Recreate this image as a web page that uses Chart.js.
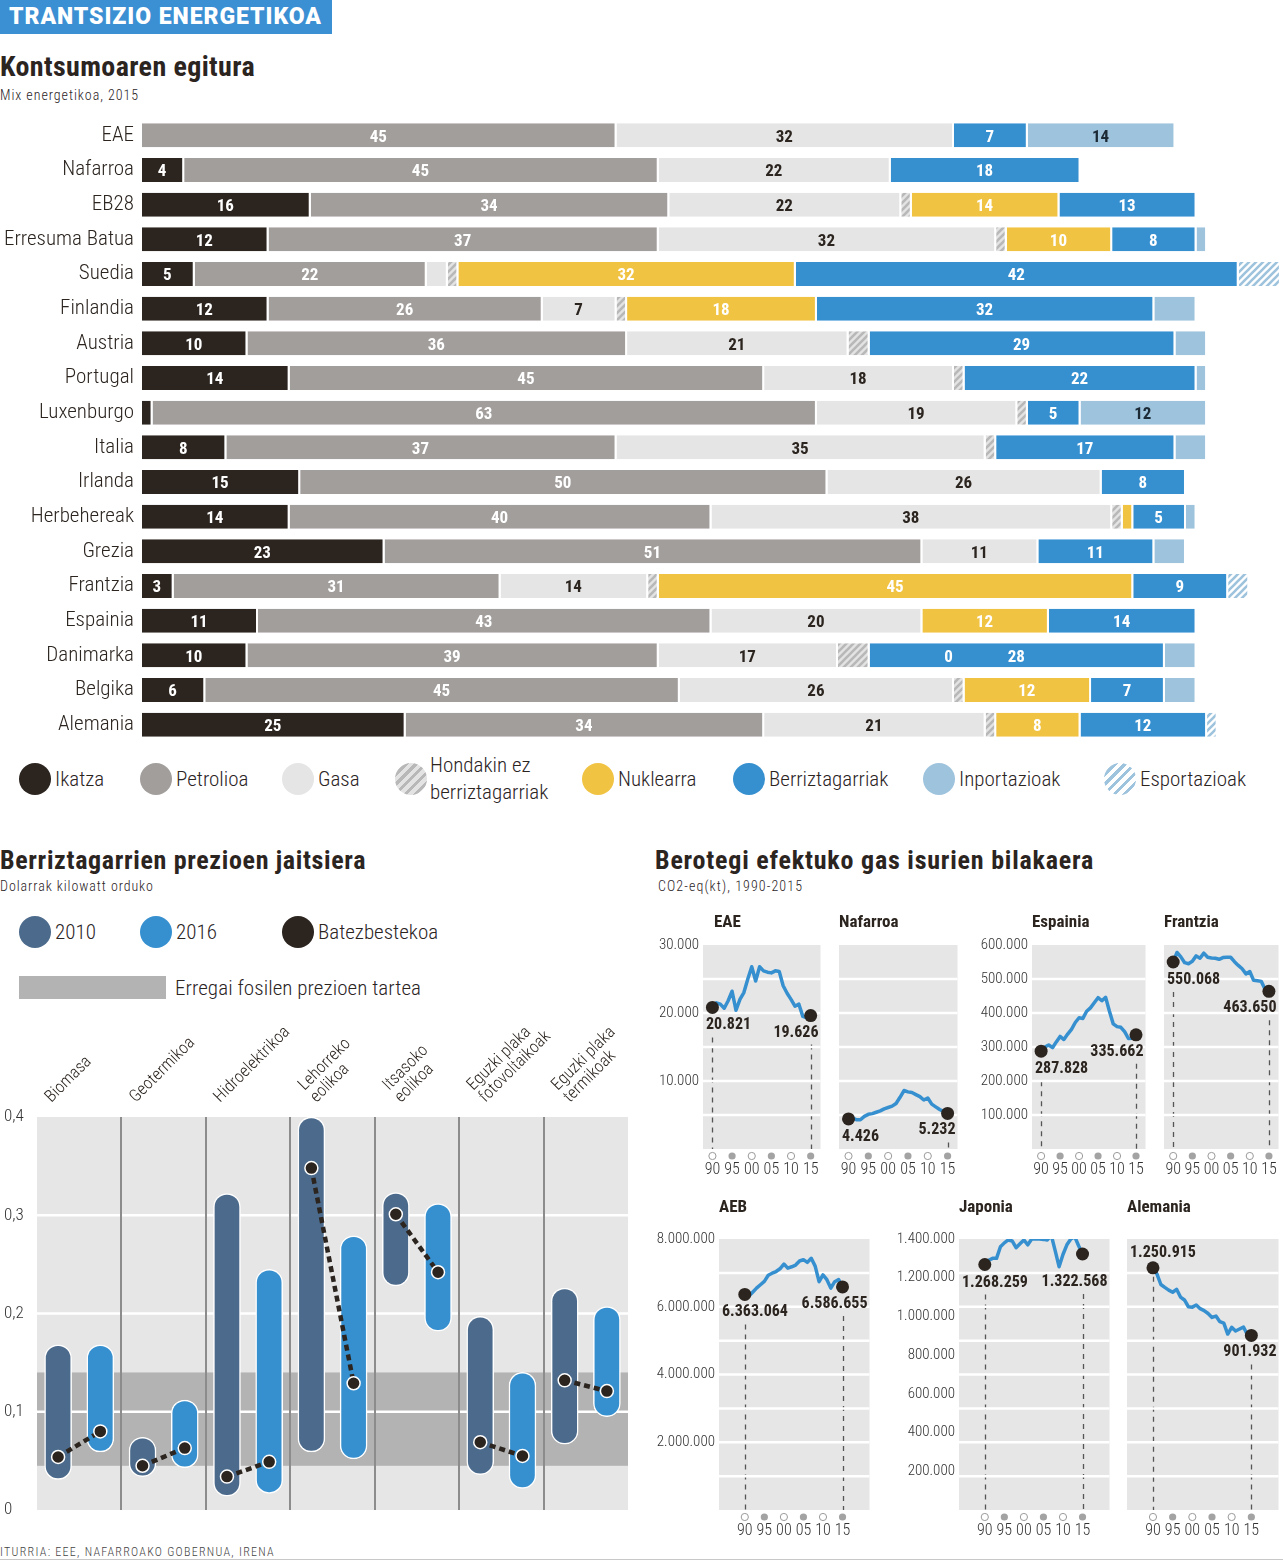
<!DOCTYPE html>
<html lang="eu">
<head>
<meta charset="utf-8">
<title>Trantsizio energetikoa</title>
<script src="https://cdn.jsdelivr.net/npm/chart.js@4.4.1/dist/chart.umd.min.js"></script>
<style>
html,body{margin:0;padding:0;background:#fff;}
#page{position:relative;width:1283px;height:1561px;overflow:hidden;background:#fff;color:#2b241f;}
.t{position:absolute;white-space:pre;line-height:1;}
canvas{position:absolute;}
.blob{position:absolute;border-radius:50%;}
</style>
</head>
<body>
<div id="page"></div>
<script>
// ================= DATA =================
// --- Kontsumoaren egitura (Mix energetikoa, 2015) ---
const countries = ['EAE','Nafarroa','EB28','Erresuma Batua','Suedia','Finlandia','Austria','Portugal','Luxenburgo','Italia','Irlanda','Herbehereak','Grezia','Frantzia','Espainia','Danimarka','Belgika','Alemania'];
const sourceNames = ['Ikatza','Petrolioa','Gasa','Hondakin ez\nberriztagarriak','Nuklearra','Berriztagarriak','Inportazioak','Esportazioak'];
const ikatza          = [0, 4,16,12, 5,12,10,14, 1, 8,15,14,23, 3,11,10, 6,25];
const petrolioa       = [45,45,34,37,22,26,36,45,63,37,50,40,51,31,43,39,45,34];
const gasa            = [32,22,22,32, 2, 7,21,18,19,35,26,38,11,14,20,17,26,21];
const hondakina       = [0, 0, 1, 1, 1, 1, 2, 1, 1, 1, 0, 1, 0, 1, 0, 3, 1, 1];
const nuklearra       = [0, 0,14,10,32,18, 0, 0, 0, 0, 0, 1, 0,45,12, 0,12, 8];
const berriztagarriak = [7,18,13, 8,42,32,29,22, 5,17, 8, 5,11, 9,14,28, 7,12];
const inportazioak    = [14,0, 0, 1, 0, 4, 3, 1,12, 3, 0, 1, 3, 0, 0, 3, 3, 0];
const esportazioak    = [0, 0, 0, 0, 4, 0, 0, 0, 0, 0, 0, 0, 0, 2, 0, 0, 0, 1];
const zeroLabelCountries = ['Danimarka'];

// --- Berriztagarrien prezioen jaitsiera (USD/kWh) ---
const techs = ['Biomasa','Geotermikoa','Hidroelektrikoa',['Lehorreko','eolikoa'],['Itsasoko','eolikoa'],['Eguzki plaka','fotovoltaikoak'],['Eguzki plaka','termikoak']];
const min2010 = [0.031,0.034,0.014,0.059,0.228,0.036,0.067];
const max2010 = [0.168,0.074,0.322,0.400,0.323,0.197,0.226];
const avg2010 = [0.054,0.045,0.034,0.348,0.301,0.069,0.132];
const min2016 = [0.059,0.043,0.017,0.052,0.182,0.022,0.095];
const max2016 = [0.168,0.112,0.245,0.279,0.312,0.140,0.207];
const avg2016 = [0.080,0.063,0.049,0.129,0.242,0.055,0.121];
const fossilRange = [0.045,0.14];
const priceTicks = [0,0.1,0.2,0.3,0.4];

// --- Berotegi efektuko gas isurien bilakaera (CO2-eq kt) ---
const years = [1990,1991,1992,1993,1994,1995,1996,1997,1998,1999,2000,2001,2002,2003,2004,2005,2006,2007,2008,2009,2010,2011,2012,2013,2014,2015];
const yearTicks = [1990,1995,2000,2005,2010,2015];
const eae      = [20821,21500,21300,20700,21800,23200,20400,22000,23000,25000,26800,24700,26800,26200,26000,25900,26200,26100,24000,22900,22000,21000,21300,19500,19300,19626];
const nafarroa = [4426,4600,4300,4300,4800,5100,5200,5400,5600,5900,6100,6300,6700,7600,8600,8400,8300,8000,7700,7200,7500,6600,6200,5800,5500,5232];
const espainia = [287828,300000,306000,298000,315000,331000,322000,338000,352000,372000,386000,384000,405000,415000,430000,445000,436000,446000,405000,368000,360000,358000,345000,325000,326000,335662];
const frantzia = [550068,578000,565000,548000,545000,552000,568000,561000,576000,564000,562000,561000,558000,563000,564000,564000,551000,540000,530000,515000,522000,496000,495000,493000,470000,463650];
const aeb      = [6363064,6310000,6430000,6550000,6650000,6750000,6930000,6990000,7040000,7120000,7260000,7140000,7180000,7230000,7350000,7390000,7310000,7430000,7200000,6740000,6940000,6800000,6550000,6740000,6800000,6586655];
const japonia  = [1268259,1290000,1300000,1300000,1360000,1380000,1395000,1390000,1355000,1375000,1395000,1370000,1400000,1400000,1400000,1398000,1395000,1420000,1340000,1257000,1320000,1370000,1400000,1412000,1365000,1322568];
const alemania = [1250915,1220000,1165000,1150000,1136000,1125000,1140000,1100000,1085000,1050000,1048000,1059000,1040000,1030000,1015000,995000,1002000,973000,965000,909000,944000,925000,935000,945000,905000,901932];
const eaeTicks      = [10000,20000,30000];
const espainiaTicks = [100000,200000,300000,400000,500000,600000];
const aebTicks      = [2000000,4000000,6000000,8000000];
const japoniaTicks  = [200000,400000,600000,800000,1000000,1200000,1400000];

// ================= FONTS =================
function fontOK(n){
  const c=document.createElement('canvas').getContext('2d');
  const s='mmmmmmmmmmlli1WQ0123456789abcdefghij';
  for(const fb of ['monospace','serif']){
    c.font='48px '+fb; const a=c.measureText(s).width;
    c.font='48px "'+n+'",'+fb; if(Math.abs(c.measureText(s).width-a)>0.01) return true;
  }
  return false;
}
const condList=['Roboto Condensed','Liberation Sans Narrow','DejaVu Sans Condensed','Open Sans Condensed'];
const COND=condList.find(fontOK);
const FAM = COND ? `"${COND}", "Roboto", "Liberation Sans", sans-serif` : `"Roboto", "Liberation Sans", sans-serif`;
const DARK='#2b241f', BLUE='#3690d0', C2010='#4c6b8c';

const page=document.getElementById('page');
Chart.defaults.font.family=FAM;

// ================= HTML TEXT =================
function txt(s,x,cy,size,o={}){
  const d=document.createElement('div'); d.className='t'; d.textContent=s;
  d.style.fontFamily=o.fam||FAM; d.style.fontSize=size+'px';
  d.style.fontWeight=o.weight||300; d.style.color=o.color||DARK;
  d.style.left=x+'px'; d.style.top=(cy-0.5*size)+'px';
  page.appendChild(d);
  if(o.w){ const w=d.getBoundingClientRect().width; const n=s.length; d.style.letterSpacing=((o.w-w)/n).toFixed(2)+'px'; }
  return d;
}
function blob(cx,cy,r,bg){
  const d=document.createElement('div'); d.className='blob';
  d.style.left=(cx-r)+'px'; d.style.top=(cy-r)+'px'; d.style.width=d.style.height=(2*r)+'px';
  d.style.background=bg; page.appendChild(d); return d;
}
function box(x,y,w,h,bg){
  const d=document.createElement('div'); d.style.position='absolute';
  d.style.left=x+'px'; d.style.top=y+'px'; d.style.width=w+'px'; d.style.height=h+'px'; d.style.background=bg;
  page.appendChild(d); return d;
}

// header
box(0,0,332,34,'#3b8fd3');
txt('TRANTSIZIO ENERGETIKOA',9,16,23,{fam:'"Roboto", "Liberation Sans", sans-serif',weight:900,color:'#fff',w:313});
// section titles
txt('Kontsumoaren egitura',0,67,28,{weight:700,w:255});
txt('Mix energetikoa, 2015',0,95,14,{weight:300,w:139});
txt('Berriztagarrien prezioen jaitsiera',0,860,26,{weight:700,w:366});
txt('Dolarrak kilowatt orduko',0,886,14,{weight:300,w:154});
txt('Berotegi efektuko gas isurien bilakaera',655,860,26,{weight:700,w:439});
txt('CO2-eq(kt), 1990-2015',658,886,14,{weight:300,w:145});
txt('ITURRIA: EEE, NAFARROAKO GOBERNUA, IRENA',0,1552,12,{weight:300,color:'#444',w:275});
box(0,1559,1283,1,'#c8c8c8');

// ================= TOP STACKED BARS =================
const topCv=document.createElement('canvas'); topCv.width=1283; topCv.height=624;
topCv.style.left='0px'; topCv.style.top='118px'; page.appendChild(topCv);
const tctx=topCv.getContext('2d');
function hatch(bg,fg){
  const c=document.createElement('canvas'); c.width=c.height=7;
  const g=c.getContext('2d'); g.fillStyle=bg; g.fillRect(0,0,7,7);
  g.strokeStyle=fg; g.lineWidth=2.6; g.beginPath();
  g.moveTo(-1,8); g.lineTo(8,-1); g.moveTo(-1,1); g.lineTo(1,-1); g.moveTo(6,8); g.lineTo(8,6); g.stroke();
  return tctx.createPattern(c,'repeat');
}
const mixSeries=[ikatza,petrolioa,gasa,hondakina,nuklearra,berriztagarriak,inportazioak,esportazioak];
const mixStyle=[
  {bg:DARK,lc:'#fff',lmin:3},
  {bg:'#a29e9c',lc:'#fff',lmin:3},
  {bg:'#e5e5e5',lc:DARK,lmin:3},
  {bg:hatch('#e3e3e3','#b8b8b8')},
  {bg:'#f1c343',lc:'#fff',lmin:3,zero:true},
  {bg:BLUE,lc:'#fff',lmin:3},
  {bg:'#9ec3dd',lc:'#1c2a36',lmin:10},
  {bg:hatch('#ffffff','#9ec3dd')}
];
const mixLabels={
  id:'mixLabels',
  afterDatasetsDraw(chart){
    const ctx=chart.ctx; ctx.save();
    ctx.font=`700 17px ${FAM}`; ctx.textAlign='center'; ctx.textBaseline='middle';
    chart.data.datasets.forEach((ds,di)=>{
      const st=mixStyle[di]; if(!st.lmin) return;
      chart.getDatasetMeta(di).data.forEach((el,i)=>{
        const v=ds.data[i]; const p=el.getProps(['x','y','base'],true);
        let tx=null;
        if(v>=st.lmin) tx=(p.x+p.base)/2-1;
        else if(v===0 && st.zero && zeroLabelCountries.includes(chart.data.labels[i])) tx=p.base+79;
        if(tx===null) return;
        ctx.fillStyle=st.lc; ctx.fillText(String(v),tx,p.y+2);
      });
    });
    ctx.restore();
  }
};
new Chart(topCv,{
  type:'bar',
  data:{labels:countries,datasets:mixSeries.map((d,i)=>({
    label:sourceNames[i],data:d,backgroundColor:mixStyle[i].bg,
    borderColor:'#fff',borderWidth:{right:2},borderSkipped:false
  }))},
  options:{
    indexAxis:'y',responsive:false,animation:false,events:[],
    layout:{padding:0},
    plugins:{legend:{display:false},tooltip:{enabled:false}},
    datasets:{bar:{categoryPercentage:1,barPercentage:0.69}},
    scales:{
      x:{stacked:true,display:false,min:0,max:108.2},
      y:{stacked:true,grid:{display:false,drawTicks:false},border:{display:false},
         ticks:{font:{family:FAM,size:21,weight:300},color:DARK,padding:8},
         afterFit:s=>{s.width=142;s.paddingTop=0;s.paddingBottom=0;}}
    }
  },
  plugins:[mixLabels]
});

// legend for the mix
const legX=[35,156,298,411,598,749,939,1120];
const legBg=[DARK,'#a29e9c','#e5e5e5','repeating-linear-gradient(135deg,#b8b8b8 0 3px,#e3e3e3 3px 7px)','#f1c343',BLUE,'#9ec3dd','repeating-linear-gradient(135deg,#9ec3dd 0 3px,#ffffff 3px 7px)'];
sourceNames.forEach((n,i)=>{
  blob(legX[i],779,16,legBg[i]);
  const lines=n.split('\n');
  if(lines.length===1) txt(n,legX[i]+20,779,21,{weight:300});
  else { txt(lines[0],legX[i]+19,765,21,{weight:300}); txt(lines[1],legX[i]+19,792,21,{weight:300}); }
});

// ================= PRICE CHART =================
blob(35,932,16,C2010); txt('2010',55,932,21,{weight:300});
blob(156,932,16,BLUE); txt('2016',176,932,21,{weight:300});
blob(298,932,16,DARK); txt('Batezbestekoa',318,932,21,{weight:300});
box(19,976,147,23,'#b3b3b3'); txt('Erregai fosilen prezioen tartea',175,988,21,{weight:300,w:246});

const pCv=document.createElement('canvas'); pCv.width=640; pCv.height=530;
pCv.style.left='0px'; pCv.style.top='1000px'; page.appendChild(pCv);
const priceBg={
  id:'priceBg',
  beforeDatasetsDraw(chart){
    const {ctx,chartArea:a,scales:{x,y}}=chart; ctx.save();
    ctx.fillStyle='#e6e6e6'; ctx.fillRect(a.left,a.top,a.right-a.left,a.bottom-a.top);
    const f1=y.getPixelForValue(fossilRange[1]), f0=y.getPixelForValue(fossilRange[0]);
    ctx.fillStyle='#b3b3b3'; ctx.fillRect(a.left,f1,a.right-a.left,f0-f1);
    ctx.strokeStyle='#fff'; ctx.lineWidth=2.5;
    priceTicks.forEach(v=>{ if(v<=0||v>=0.4) return; const py=y.getPixelForValue(v);
      ctx.beginPath(); ctx.moveTo(a.left,py); ctx.lineTo(a.right,py); ctx.stroke(); });
    ctx.strokeStyle='#8c8c8c'; ctx.lineWidth=2;
    for(let i=1;i<techs.length;i++){ const px=Math.round(x.getPixelForValue(i-0.5));
      ctx.beginPath(); ctx.moveTo(px,a.top); ctx.lineTo(px,a.bottom); ctx.stroke(); }
    // rotated category labels
    ctx.fillStyle=DARK; ctx.font=`300 17px ${FAM}`; ctx.textAlign='left'; ctx.textBaseline='alphabetic';
    techs.forEach((lab,i)=>{
      const lines=Array.isArray(lab)?lab:[lab]; const n=lines.length;
      const cx=x.getPixelForValue(i);
      ctx.save(); ctx.translate(cx-28+12*(n-1),a.top-14); ctx.rotate(-Math.PI/4);
      lines.forEach((l,k)=>ctx.fillText(l,0,(k-(n-1))*17));
      ctx.restore();
    });
    ctx.restore();
  }
};
const avgPts=[];
techs.forEach((_,i)=>{ avgPts.push({x:i-0.25,y:avg2010[i]},{x:i+0.25,y:avg2016[i]},{x:i+0.5,y:null}); });
const pillStyle={grouped:false,maxBarThickness:27,categoryPercentage:1,barPercentage:1,borderColor:'#fff',borderWidth:1.5,borderRadius:14,borderSkipped:false,order:1};
new Chart(pCv,{
  type:'bar',
  data:{datasets:[
    {type:'line',label:'Batezbestekoa',data:avgPts,borderColor:DARK,borderWidth:4.5,borderDash:[6,4],
     pointRadius:6.5,pointBackgroundColor:DARK,pointBorderColor:'#fff',pointBorderWidth:1.5,spanGaps:false,order:0,clip:false},
    Object.assign({label:'2010',data:techs.map((_,i)=>({x:i-0.25,y:[min2010[i],max2010[i]]})),backgroundColor:C2010},pillStyle),
    Object.assign({label:'2016',data:techs.map((_,i)=>({x:i+0.25,y:[min2016[i],max2016[i]]})),backgroundColor:BLUE},pillStyle)
  ]},
  options:{
    responsive:false,animation:false,events:[],
    layout:{padding:{left:4,top:117,right:12,bottom:20}},
    plugins:{legend:{display:false},tooltip:{enabled:false}},
    scales:{
      x:{type:'linear',display:false,min:-0.5,max:6.5,offset:false,afterBuildTicks:s=>{s.ticks=[{value:-0.5},{value:6.5}];}},
      y:{min:0,max:0.4,grid:{display:false,drawTicks:false},border:{display:false},
         afterBuildTicks:s=>{s.ticks=priceTicks.map(v=>({value:v}));},
         ticks:{callback:v=>v===0?'0':v.toFixed(1).replace('.',','),font:{family:FAM,size:17,weight:300},color:'#333',padding:0,crossAlign:'far'},
         afterFit:s=>{s.width=33;}}
    }
  },
  plugins:[priceBg]
});

// ================= EMISSIONS SMALL MULTIPLES =================
function fmt(n){ return String(Math.round(n)).replace(/\B(?=(\d{3})+(?!\d))/g,'.'); }
const panels=[
  {title:'EAE',s:eae,ticks:eaeTicks,max:30000,left:703,top:945,w:122,h:204,bands:6,row:1,tx:714},
  {title:'Nafarroa',s:nafarroa,ticks:null,max:30000,left:839,top:945,w:123,h:204,bands:6,row:1},
  {title:'Espainia',s:espainia,ticks:espainiaTicks,max:600000,left:1032,top:945,w:118,h:204,bands:6,row:1},
  {title:'Frantzia',s:frantzia,ticks:null,max:600000,left:1164,top:945,w:119,h:204,bands:6,row:1},
  {title:'AEB',s:aeb,ticks:aebTicks,max:8000000,left:719,top:1239,w:155,h:271,bands:8,row:2},
  {title:'Japonia',s:japonia,ticks:japoniaTicks,max:1400000,left:959,top:1239,w:155,h:271,bands:8,row:2,lastDy:28},
  {title:'Alemania',s:alemania,ticks:null,max:1400000,left:1127,top:1239,w:156,h:271,bands:8,row:2,firstAbove:true}
];
function panelPlugin(p){
  function pos(chart){
    const {chartArea:a,scales:{x,y}}=chart; const n=p.s.length;
    const d0={x:x.getPixelForValue(years[0]),y:y.getPixelForValue(p.s[0])};
    const d1={x:x.getPixelForValue(years[n-1]),y:y.getPixelForValue(p.s[n-1])};
    const l0={x:a.left+3,y:p.firstAbove?d0.y-15:d0.y+18,t:fmt(p.s[0]),al:'left'};
    const l1={x:a.right-2,y:d1.y+(p.lastDy||17),t:fmt(p.s[n-1]),al:'right'};
    return {a,d0,d1,l0,l1};
  }
  return {
    id:'panel',
    beforeDatasetsDraw(chart){
      const ctx=chart.ctx; const {a,d0,d1,l0,l1}=pos(chart); const x=chart.scales.x;
      ctx.save();
      ctx.fillStyle='#e6e6e6'; ctx.fillRect(a.left,a.top,a.right-a.left,a.bottom-a.top);
      ctx.strokeStyle='#555'; ctx.lineWidth=1.3; ctx.setLineDash([5,5]);
      const s0=p.firstAbove?d0.y+9:l0.y+12, s1=l1.y+12;
      ctx.beginPath(); ctx.moveTo(Math.round(d0.x)+0.5,s0); ctx.lineTo(Math.round(d0.x)+0.5,a.bottom);
      ctx.moveTo(Math.round(d1.x)+0.5,s1); ctx.lineTo(Math.round(d1.x)+0.5,a.bottom); ctx.stroke();
      ctx.setLineDash([]);
      ctx.strokeStyle='#fff'; ctx.lineWidth=2.5;
      for(let k=1;k<p.bands;k++){ const py=a.top+k*(a.bottom-a.top)/p.bands;
        ctx.beginPath(); ctx.moveTo(a.left,py); ctx.lineTo(a.right,py); ctx.stroke(); }
      yearTicks.forEach((yr,i)=>{ const px=x.getPixelForValue(yr);
        ctx.beginPath(); ctx.arc(px,a.bottom+7,3.6,0,Math.PI*2);
        if(i%2===0){ ctx.fillStyle='#fff'; ctx.fill(); ctx.strokeStyle='#9a9a9a'; ctx.lineWidth=1; ctx.stroke(); }
        else { ctx.fillStyle='#a3a3a3'; ctx.fill(); } });
      ctx.restore();
    },
    afterDatasetsDraw(chart){
      const ctx=chart.ctx; const {l0,l1}=pos(chart);
      ctx.save(); ctx.font=`700 16px ${FAM}`; ctx.fillStyle=DARK; ctx.textBaseline='middle';
      ctx.textAlign=l0.al; ctx.fillText(l0.t,l0.x,l0.y);
      ctx.textAlign=l1.al; ctx.fillText(l1.t,l1.x,l1.y);
      ctx.restore();
    }
  };
}
panels.forEach(p=>{
  const Lw=72,Tp=12,Bh=36,Rp=2;
  const cv=document.createElement('canvas'); cv.width=Lw+p.w+Rp; cv.height=Tp+p.h+Bh;
  cv.style.left=(p.left-Lw)+'px'; cv.style.top=(p.top-Tp)+'px'; page.appendChild(cv);
  const xr=p.row===1?[1987.6,2017.5]:[1983.4,2021.9];
  new Chart(cv,{
    type:'line',
    data:{datasets:[
      {data:years.map((yr,i)=>({x:yr,y:p.s[i]})),borderColor:BLUE,borderWidth:3.5,pointRadius:0,tension:0,borderJoinStyle:'round',order:2},
      {data:[{x:years[0],y:p.s[0]},{x:years[years.length-1],y:p.s[p.s.length-1]}],showLine:false,pointRadius:6.5,pointBackgroundColor:DARK,pointBorderWidth:0,order:1,clip:false}
    ]},
    options:{
      responsive:false,animation:false,events:[],
      layout:{padding:{top:Tp,right:Rp,left:0,bottom:0}},
      plugins:{legend:{display:false},tooltip:{enabled:false}},
      scales:{
        x:{type:'linear',min:xr[0],max:xr[1],grid:{display:false,drawTicks:false},border:{display:false},
           afterBuildTicks:s=>{s.ticks=yearTicks.map(v=>({value:v}));},
           ticks:{callback:v=>String(v).slice(2),font:{family:FAM,size:16,weight:300},color:'#333',padding:11,maxRotation:0,autoSkip:false},
           afterFit:s=>{s.height=Bh;s.paddingLeft=0;s.paddingRight=0;}},
        y:{min:0,max:p.max,grid:{display:false,drawTicks:false},border:{display:false},
           afterBuildTicks:s=>{s.ticks=(p.ticks||[p.max]).map(v=>({value:v}));},
           ticks:{display:!!p.ticks,callback:v=>fmt(v),font:{family:FAM,size:15,weight:300},color:'#333',padding:4},
           afterFit:s=>{s.width=Lw;s.paddingTop=0;s.paddingBottom=0;}}
      }
    },
    plugins:[panelPlugin(p)]
  });
  txt(p.title,p.tx||p.left,p.row===1?921:1206.5,17,{weight:700});
});
</script>
</body>
</html>
